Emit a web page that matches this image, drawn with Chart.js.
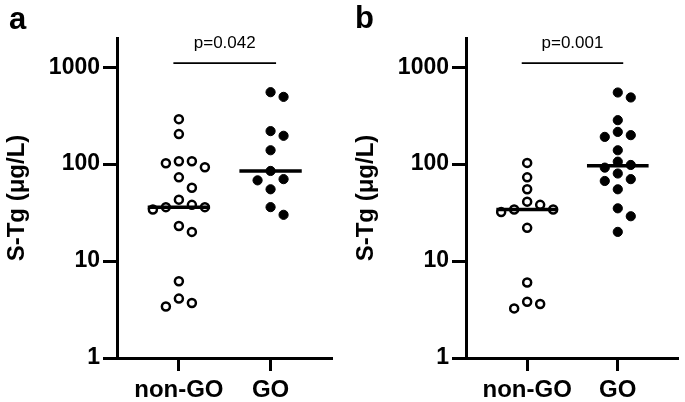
<!DOCTYPE html>
<html>
<head>
<meta charset="utf-8">
<script src="https://cdn.jsdelivr.net/npm/chart.js@4/dist/chart.umd.min.js"></script>
<style>
	body { margin: 0; background: #fff; }
	#wrap { position: relative; width: 685px; height: 402px; overflow: hidden; }
	.panel { position: absolute; top: 0; }
	.letter { position: absolute; font: bold 31px/31px "Liberation Sans", Arial, sans-serif; color: #000; }
</style>
</head>
<body>
<div id="wrap">
	<div class="panel" style="left:0"><canvas id="chartA" width="340" height="402"></canvas></div>
	<div class="panel" style="left:349px"><canvas id="chartB" width="336" height="402"></canvas></div>
	<div class="letter" style="left:9px;top:3px">a</div>
	<div class="letter" style="left:355px;top:2px">b</div>
</div>
<script>
"use strict";

/********/
/* data */
/********/
const categories = ["non-GO", "GO"];
const yTicks = [1, 10, 100, 1000];

// panel a, S-Tg in µg/L
const aNonGO = [291, 204, 107, 93, 102, 107, 73, 57, 36, 43, 34, 36, 38, 20, 23, 6.2, 3.4, 4.1, 3.7];
const aGO = [552, 494, 219, 196, 139, 85, 70, 68, 55, 36, 30];
const aMedian = [36, 85];
const aP = "p=0.042";

// panel b
const bNonGO = [103, 73, 55, 34, 34, 32, 38, 41, 22, 6.0, 3.25, 3.8, 3.6];
const bGO = [548, 487, 284, 191, 199, 215, 139, 106, 92, 98, 70, 80, 67, 55, 35, 29, 20];
const bMedian = [34, 96];
const bP = "p=0.001";

const bracketLevel = 1100;

/***********/
/* helpers */
/***********/
const FONT = "'Liberation Sans', Arial, sans-serif";
Chart.defaults.font.family = FONT;
Chart.defaults.color = "#000";

// draws the p value above the bracket
const pLabel = {
	id: "pLabel",
	afterDatasetsDraw(chart, args, opts) {
		const ctx = chart.ctx;
		const x = chart.scales.x;
		const y = chart.scales.y;
		ctx.save();
		ctx.font = "17px " + FONT;
		ctx.fillStyle = "#000";
		ctx.textAlign = "center";
		ctx.textBaseline = "alphabetic";
		ctx.fillText(opts.text, x.getPixelForValue(1.5), y.getPixelForValue(bracketLevel) - 15);
		ctx.restore();
	}
};

function points(values, center) {
	return values.map(v => ({ x: center, y: v }));
}

function hline(x0, x1, y) {
	return [{ x: x0, y: y }, { x: x1, y: y }];
}

function swarm(chart) {
	// spread the dots sideways so they do not overlap (simple beeswarm)
	const xs = chart.scales.x;
	const ys = chart.scales.y;
	const unit = xs.getPixelForValue(2) - xs.getPixelForValue(1);
	const step = 13;
	const minGap = 10.5;
	chart.data.datasets.forEach(ds => {
		if (ds.center === undefined) return;
		const placed = [];
		const order = ds.data.map((p, i) => i).sort((a, b) => ds.data[b].y - ds.data[a].y);
		order.forEach(i => {
			const p = ds.data[i];
			const py = ys.getPixelForValue(p.y);
			for (let k = 0; k < 30; k++) {
				const lane = k === 0 ? 0 : (k % 2 ? (k + 1) / 2 : -k / 2);
				const px = lane * step;
				if (placed.every(q => Math.hypot(q.px - px, q.py - py) >= minGap)) {
					placed.push({ px: px, py: py });
					p.x = ds.center + px / unit;
					break;
				}
			}
		});
	});
	chart.update("none");
}

function makePanel(id, nonGO, go, median, pText, rightPad) {
	const ctx = document.getElementById(id).getContext("2d");
	const half = 0.34;
	const chart = new Chart(ctx, {
		type: "scatter",
		data: {
			datasets: [
				{ data: hline(1 - half, 1 + half, median[0]), showLine: true, borderColor: "#000", borderWidth: 3.5, pointRadius: 0 },
				{ data: hline(2 - half, 2 + half, median[1]), showLine: true, borderColor: "#000", borderWidth: 3.5, pointRadius: 0 },
				{ data: hline(0.94, 2.06, bracketLevel), showLine: true, borderColor: "#000", borderWidth: 1.6, pointRadius: 0 },
				{ data: points(nonGO, 1), center: 1, pointRadius: 4, borderWidth: 2.5, borderColor: "#000", backgroundColor: "#fff" },
				{ data: points(go, 2), center: 2, pointRadius: 4.6, borderWidth: 1, borderColor: "#000", backgroundColor: "#000" }
			]
		},
		options: {
			responsive: false,
			animation: false,
			devicePixelRatio: 1,
			layout: { padding: { top: 38, right: rightPad, bottom: 0, left: 0 } },
			plugins: {
				legend: { display: false },
				tooltip: { enabled: false },
				pLabel: { text: pText }
			},
			scales: {
				x: {
					type: "linear",
					min: 0.325,
					max: 2.67,
					afterBuildTicks: s => { s.ticks = [{ value: 1 }, { value: 2 }]; },
					afterFit: s => { s.height = 44; },
					ticks: {
						callback: v => categories[v - 1],
						font: { size: 24, weight: "bold" },
						padding: 5,
						maxRotation: 0
					},
					grid: { drawOnChartArea: false, tickLength: 13, tickWidth: 3, tickColor: "#000" },
					border: { display: true, width: 3, color: "#000" }
				},
				y: {
					type: "logarithmic",
					min: 1,
					max: 2000,
					afterBuildTicks: s => { s.ticks = yTicks.map(v => ({ value: v })); },
					afterFit: s => { s.width = 117; },
					ticks: {
						callback: v => String(v),
						font: { size: 23, weight: "bold" },
						padding: 3
					},
					grid: { drawOnChartArea: false, tickLength: 14, tickWidth: 3, tickColor: "#000" },
					border: { display: true, width: 3, color: "#000" },
					title: {
						display: true,
						text: "S-Tg (μg/L)",
						font: { size: 24, weight: "bold" },
						padding: { top: 3, bottom: 0 }
					}
				}
			}
		},
		plugins: [pLabel]
	});
	swarm(chart);
	return chart;
}

/********/
/* MAIN */
/********/
(function main() {
	makePanel("chartA", aNonGO, aGO, aMedian, aP, 8);
	makePanel("chartB", bNonGO, bGO, bMedian, bP, 3);
})();
</script>
</body>
</html>
